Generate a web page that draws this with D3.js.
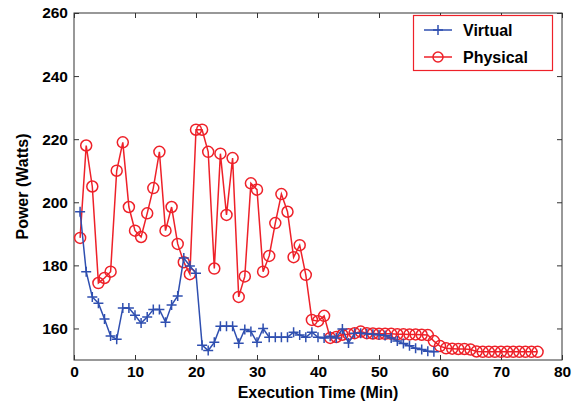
<!DOCTYPE html>
<html><head><meta charset="utf-8">
<script src="https://cdn.jsdelivr.net/npm/d3@7"></script>
<style>body{margin:0;background:#fff}</style>
</head><body>
<script>
const virtualTime = d3.range(1, 60);
const virtualPower = [197,178,170,168,163,157.6,156.6,166.5,166.5,164.2,161.7,163.6,166,166,162,167.4,170.3,182.3,179.8,177.5,
154.7,153,155.6,160.7,160.7,160.7,155.3,159.7,159,155.6,160,157.2,157.2,157.2,157.2,158.8,157.9,157.2,158.8,157.2,
157,157.5,157,159.8,155.4,158.5,158.5,158.3,158.2,158,157.8,157,156,155.2,154.5,153.7,153.3,152.8,152.6];
const physicalTime = d3.range(1, 77);
const physicalPower = [188.7,218,205,174.4,176,178,210,219,198.5,191,189,196.5,204.5,216,191,198.5,186.8,181,177.2,223,
223,216,179,215.4,196,214,170,176.5,206,204,178,183,193.4,202.6,197,182.6,186.4,177,162.7,162.3,
164,157,157.3,158,158.2,158.5,159,158.5,158.4,158.3,158.3,158.3,158.2,158.2,158.1,158.1,158,157.9,156,154.4,
153.7,153.6,153.5,153.5,153.3,152.7,152.6,152.6,152.6,152.6,152.6,152.6,152.6,152.6,152.6,152.6];
const xTicks = [0,10,20,30,40,50,60,70,80];
const yTicks = [160,180,200,220,240,260];
const seriesNames = ["Virtual","Physical"];

const W = 581, H = 405;
const m = {l:74, r:19, t:13, b:45};
const svg = d3.select("body").append("svg").attr("width",W).attr("height",H)
  .style("font-family","'Liberation Sans', Arial, sans-serif");
const x = d3.scaleLinear().domain([0,80]).range([m.l, W-m.r]);
const y = d3.scaleLinear().domain([150,260]).range([H-m.b, m.t]);
const blue = "#2f4fb0", red = "#ee2129";

// frame
svg.append("rect").attr("x",x(0)).attr("y",y(260)).attr("width",x(80)-x(0)).attr("height",y(150)-y(260))
  .attr("fill","none").attr("stroke","#333").attr("stroke-width",1);

const tl = 5;
const gx = svg.append("g").attr("transform",`translate(0,${y(150)})`)
  .call(d3.axisBottom(x).tickValues(xTicks).tickSize(-tl).tickPadding(6).tickFormat(d3.format("d")));
const gy = svg.append("g").attr("transform",`translate(${x(0)},0)`)
  .call(d3.axisLeft(y).tickValues(yTicks).tickSize(-tl).tickPadding(6).tickFormat(d3.format("d")));
const gxt = svg.append("g").attr("transform",`translate(0,${y(260)})`)
  .call(d3.axisTop(x).tickValues(xTicks).tickSize(-tl).tickFormat(""));
const gyr = svg.append("g").attr("transform",`translate(${x(80)},0)`)
  .call(d3.axisRight(y).tickValues(yTicks).tickSize(-tl).tickFormat(""));
[gx,gy,gxt,gyr].forEach(g=>{
  g.select(".domain").remove();
  g.selectAll(".tick line").attr("stroke","#333");
  g.selectAll("text").attr("fill","#000").style("font-size","15.5px").style("font-weight","bold")
   .style("font-family","'Liberation Sans', Arial, sans-serif");
});

svg.append("text").attr("x",(x(0)+x(80))/2).attr("y",397.5).attr("text-anchor","middle")
  .style("font-size","16px").style("font-weight","bold").text("Execution Time (Min)");
svg.append("text").attr("transform",`translate(28,${(y(150)+y(260))/2}) rotate(-90)`).attr("text-anchor","middle")
  .style("font-size","16px").style("font-weight","bold").text("Power (Watts)");

const line = d3.line().x(d=>x(d[0])).y(d=>y(d[1]));
const vData = virtualTime.map((t,i)=>[t,virtualPower[i]]);
const pData = physicalTime.map((t,i)=>[t,physicalPower[i]]);

function plus(g, cx, cy, s, color){
  g.append("path").attr("d",`M${cx-s},${cy}H${cx+s}M${cx},${cy-s}V${cy+s}`).attr("stroke",color).attr("stroke-width",1.5).attr("fill","none");
}

// physical
svg.append("path").datum(pData).attr("d",line).attr("fill","none").attr("stroke",red).attr("stroke-width",1.5);
svg.append("g").selectAll("circle").data(pData).join("circle")
  .attr("cx",d=>x(d[0])).attr("cy",d=>y(d[1])).attr("r",5.5)
  .attr("fill","none").attr("stroke",red).attr("stroke-width",1.5);
// virtual
svg.append("path").datum(vData).attr("d",line).attr("fill","none").attr("stroke",blue).attr("stroke-width",1.5);
const vg = svg.append("g");
vData.forEach(d=>plus(vg, x(d[0]), y(d[1]), 5, blue));

// legend
const lg = svg.append("g");
lg.append("rect").attr("x",413.5).attr("y",15.5).attr("width",139).attr("height",55)
  .attr("fill","#fff").attr("stroke",red).attr("stroke-width",1.2);
const ly = [30, 57];
lg.append("line").attr("x1",424).attr("x2",452).attr("y1",ly[0]).attr("y2",ly[0]).attr("stroke",blue).attr("stroke-width",1.5);
plus(lg, 438, ly[0], 5, blue);
lg.append("line").attr("x1",424).attr("x2",452).attr("y1",ly[1]).attr("y2",ly[1]).attr("stroke",red).attr("stroke-width",1.5);
lg.append("circle").attr("cx",438).attr("cy",ly[1]).attr("r",5).attr("fill","none").attr("stroke",red).attr("stroke-width",1.5);
seriesNames.forEach((n,i)=>{
  lg.append("text").attr("x",463).attr("y",ly[i]+5.5).style("font-size","16px").style("font-weight","bold").text(n);
});
</script>
</body></html>
